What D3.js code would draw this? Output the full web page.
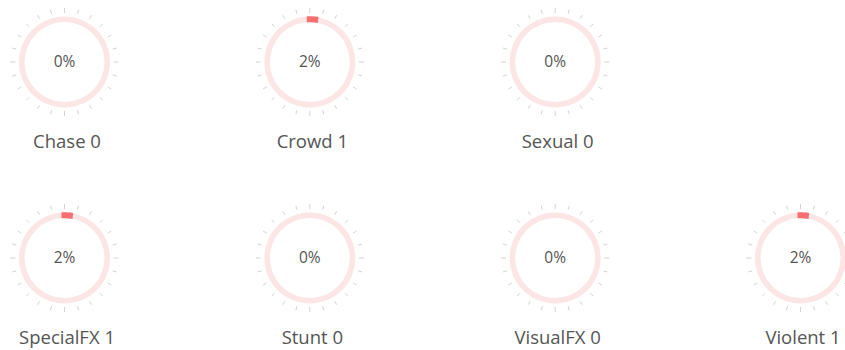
<!DOCTYPE html>
<html>
<head>
<meta charset="utf-8">
<script src="https://cdn.jsdelivr.net/npm/d3@7"></script>
<style>
  html, body { margin: 0; padding: 0; background: #fff; }
  svg { display: block; }
  text { font-family: "Open Sans", sans-serif; fill: #555; }
</style>
</head>
<body>
<svg id="chart" width="845" height="350"></svg>
<script>
// Scene categories, their counts and the share each count represents
const categories = ["Chase", "Crowd", "Sexual", "SpecialFX", "Stunt", "VisualFX", "Violent"];
const counts = [0, 1, 0, 1, 0, 0, 1];
const percents = [0, 2, 0, 2, 0, 0, 2];
// Which row of the grid each gauge sits in
const rows = [0, 0, 0, 1, 1, 1, 1];

const svg = d3.select("#chart");

// Column positions inside a row, and row positions down the page
const colScale = d3.scaleLinear().domain([0, 3]).range([64.5, 800.5]);
const rowScale = d3.scaleLinear().domain([0, 1]).range([62, 258]);

// Percent -> angle around the dial (full circle from 12 o'clock)
const angle = d3.scaleLinear().domain([0, 100]).range([0, 2 * Math.PI]);

const outerR = 45.5, innerR = 40;
const ringArc = d3.arc().innerRadius(innerR).outerRadius(outerR)
  .startAngle(0).endAngle(2 * Math.PI);

const data = categories.map((name, i) => ({
  name, count: counts[i], pct: percents[i], row: rows[i]
}));
// column index within each row
const colIdx = {};
data.forEach(d => { d.col = colIdx[d.row] = (colIdx[d.row] === undefined ? 0 : colIdx[d.row] + 1); });

const gauges = svg.selectAll("g.gauge").data(data).join("g")
  .attr("class", "gauge")
  .attr("transform", d => `translate(${colScale(d.col)},${rowScale(d.row)})`);

// 24 tick marks round the dial; quarter marks are a little longer
const ticks = d3.range(24);
gauges.selectAll("line.tick").data(ticks).join("line")
  .attr("class", "tick")
  .each(function (t) {
    const a = t / 24 * 2 * Math.PI;
    const r0 = t % 6 === 0 ? 49 : 50;
    const r1 = 54;
    d3.select(this)
      .attr("x1", Math.sin(a) * r0).attr("y1", -Math.cos(a) * r0)
      .attr("x2", Math.sin(a) * r1).attr("y2", -Math.cos(a) * r1);
  })
  .attr("stroke", "#d2d2d2")
  .attr("stroke-width", 1);

// background ring
gauges.append("path")
  .attr("d", ringArc())
  .attr("fill", "#fbe5e5");

// value arc: stroked along the ring's middle with square ends
const midR = (innerR + outerR) / 2;
gauges.filter(d => d.pct > 0).append("path")
  .attr("d", d => {
    const p = d3.path();
    p.arc(0, 0, midR, angle(0) - Math.PI / 2, angle(d.pct) - Math.PI / 2);
    return p.toString();
  })
  .attr("fill", "none")
  .attr("stroke", "#f86f6f")
  .attr("stroke-width", outerR - innerR + 0.5)
  .attr("stroke-linecap", "square");

// percent in the middle
gauges.append("text")
  .attr("text-anchor", "middle")
  .attr("dy", "0.35em")
  .attr("font-size", 15.5)
  .text(d => d.pct + "%");

// category label with its count
gauges.append("text")
  .attr("text-anchor", "middle")
  .attr("x", 2.5)
  .attr("y", 86)
  .attr("font-size", 18.5)
  .text(d => d.name + " " + d.count);
</script>
</body>
</html>
